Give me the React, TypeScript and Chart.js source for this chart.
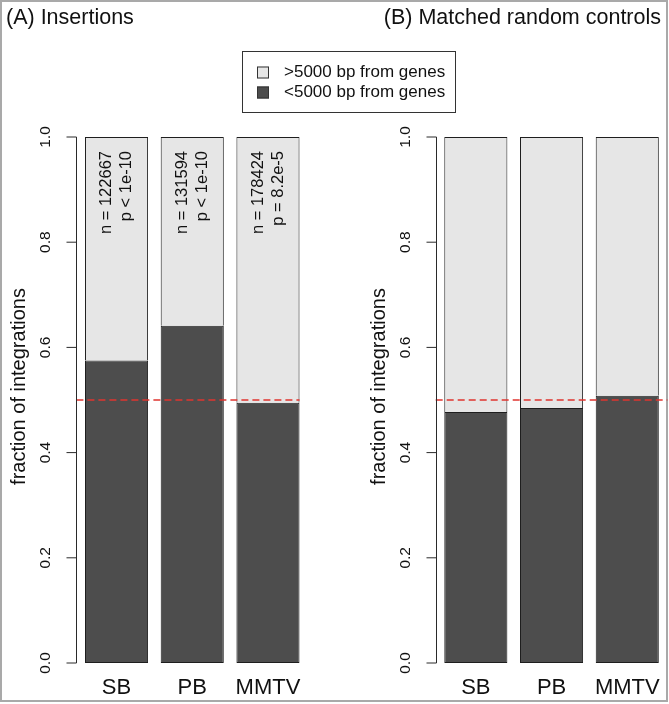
import React, { useEffect, useRef } from "react";
import { Chart, registerables } from "chart.js";

Chart.register(...registerables);

// ---- data ----
const categories = ["SB", "PB", "MMTV"];
const barPositions = [0.7, 1.9, 3.1];
const insertionsNear = [0.575, 0.641, 0.495];
const insertionsFar = [0.425, 0.359, 0.505];
const controlsNear = [0.477, 0.485, 0.508];
const controlsFar = [0.523, 0.515, 0.492];
const insertionCounts = ["n = 122667", "n = 131594", "n = 178424"];
const insertionPValues = ["p < 1e-10", "p < 1e-10", "p = 8.2e-5"];
const yTickValues = [0, 0.2, 0.4, 0.6, 0.8, 1.0];
const legendLabels = [">5000 bp from genes", "<5000 bp from genes"];
const panelTitles = ["(A) Insertions", "(B) Matched random controls"];
const yAxisTitle = "fraction of integrations";
const referenceLevel = 0.5;
const xRange = [0.064, 3.736];
const leftRefLineEnd = 3.6;

// ---- styles ----
const FONT = '"Liberation Sans", Arial, Helvetica, sans-serif';
const DARK = "#4d4d4d";
const LIGHT = "#e6e6e6";
const EDGE = "#1e1e1e";
const AXIS = "#2a2a2a";
const TEXT = "#111111";
const RED = "#e0342f";

type Panel = {
  near: number[];
  far: number[];
  notes: string[][] | null;
  title: string;
  titleAlign: CanvasTextAlign;
  titleX: number;
  padding: { left: number; right: number; top: number; bottom: number };
  refEnd: number | null;
  legend: boolean;
};

const panels: Panel[] = [
  {
    near: insertionsNear,
    far: insertionsFar,
    notes: [insertionCounts, insertionPValues],
    title: panelTitles[0],
    titleAlign: "left",
    titleX: 6,
    padding: { left: 76.4, right: 360.9, top: 137, bottom: 41 },
    refEnd: leftRefLineEnd,
    legend: true,
  },
  {
    near: controlsNear,
    far: controlsFar,
    notes: null,
    title: panelTitles[1],
    titleAlign: "right",
    titleX: 661,
    padding: { left: 435.7, right: 1.6, top: 137, bottom: 41 },
    refEnd: null,
    legend: false,
  },
];

function rotText(
  ctx: CanvasRenderingContext2D,
  text: string,
  x: number,
  y: number,
  align: CanvasTextAlign
) {
  ctx.save();
  ctx.translate(x, y);
  ctx.rotate(-Math.PI / 2);
  ctx.textAlign = align;
  ctx.textBaseline = "middle";
  ctx.fillText(text, 0, 0);
  ctx.restore();
}

function buildChart(canvas: HTMLCanvasElement, p: Panel) {
  const decor = {
    id: "decor",
    afterDatasetsDraw(chart: any) {
      const { ctx, chartArea: a, scales } = chart;
      const py = scales.y.getPixelForValue(referenceLevel);
      const xEnd = p.refEnd != null ? scales.x.getPixelForValue(p.refEnd) : a.right;
      ctx.save();
      ctx.strokeStyle = RED;
      ctx.lineWidth = 1.5;
      ctx.setLineDash([7, 4]);
      ctx.beginPath();
      ctx.moveTo(a.left, py);
      ctx.lineTo(xEnd, py);
      ctx.stroke();
      ctx.restore();
    },
    afterDraw(chart: any) {
      const { ctx, chartArea: a, scales } = chart;
      const xs = scales.x;
      const ys = scales.y;
      const ax = Math.round(a.left) + 0.5;
      const y0 = ys.getPixelForValue(0);
      const y1 = ys.getPixelForValue(1);
      ctx.save();
      // y axis
      ctx.strokeStyle = AXIS;
      ctx.lineWidth = 1;
      ctx.beginPath();
      ctx.moveTo(ax, y0);
      ctx.lineTo(ax, y1);
      ys.ticks.forEach((t: any) => {
        const py = ys.getPixelForValue(t.value);
        ctx.moveTo(ax - 10, py);
        ctx.lineTo(ax, py);
      });
      ctx.stroke();
      ctx.fillStyle = TEXT;
      ctx.font = `15.5px ${FONT}`;
      ys.ticks.forEach((t: any) =>
        rotText(ctx, Number(t.value).toFixed(1), ax - 30.5, ys.getPixelForValue(t.value), "center")
      );
      ctx.font = `20px ${FONT}`;
      rotText(ctx, yAxisTitle, ax - 57, (y0 + y1) / 2 - 13.5, "center");
      // category labels
      ctx.font = `22px ${FONT}`;
      ctx.textAlign = "center";
      ctx.textBaseline = "middle";
      xs.ticks.forEach((t: any, i: number) => {
        ctx.fillText(categories[i], xs.getPixelForValue(t.value), y0 + 25);
      });
      // annotations
      if (p.notes) {
        ctx.font = `16.5px ${FONT}`;
        const top = y1 + 14;
        barPositions.forEach((v, i) => {
          const cx = xs.getPixelForValue(v);
          rotText(ctx, p.notes![0][i], cx - 10, top, "right");
          rotText(ctx, p.notes![1][i], cx + 10, top, "right");
        });
      }
      // title
      ctx.font = `21.5px ${FONT}`;
      ctx.textAlign = p.titleAlign;
      ctx.textBaseline = "middle";
      ctx.fillText(p.title, p.titleX, 18);
      // legend
      if (p.legend) {
        const ds = chart.data.datasets;
        const order = [1, 0];
        ctx.strokeStyle = "#333333";
        ctx.lineWidth = 1;
        ctx.strokeRect(242.5, 51.5, 213, 61);
        ctx.font = `17px ${FONT}`;
        ctx.textAlign = "left";
        order.forEach((di, r) => {
          const cy = 72.5 + r * 20;
          ctx.fillStyle = ds[di].backgroundColor;
          ctx.fillRect(257, cy - 6, 12, 12);
          ctx.strokeStyle = "#333333";
          ctx.strokeRect(257.5, cy - 5.5, 11, 11);
          ctx.fillStyle = TEXT;
          ctx.fillText(ds[di].label, 284, cy);
        });
      }
      ctx.restore();
    },
  };

  return new Chart(canvas, {
    type: "bar",
    data: {
      datasets: [
        {
          label: legendLabels[1],
          data: barPositions.map((x, i) => ({ x, y: p.near[i] })),
          backgroundColor: DARK,
          borderColor: EDGE,
          borderWidth: 1,
          borderSkipped: false,
        },
        {
          label: legendLabels[0],
          data: barPositions.map((x, i) => ({ x, y: p.far[i] })),
          backgroundColor: LIGHT,
          borderColor: EDGE,
          borderWidth: 1,
          borderSkipped: "bottom",
        },
      ],
    } as any,
    options: {
      animation: false,
      responsive: false,
      events: [],
      layout: { padding: p.padding },
      datasets: { bar: { barPercentage: 1 / 1.2, categoryPercentage: 1 } },
      plugins: {
        legend: { display: false },
        tooltip: { enabled: false },
        title: { display: false },
      },
      scales: {
        x: {
          type: "linear",
          min: xRange[0],
          max: xRange[1],
          offset: false,
          grid: { offset: false },
          stacked: true,
          display: false,
          afterBuildTicks: (s: any) => {
            s.ticks = barPositions.map((v) => ({ value: v }));
          },
        },
        y: {
          type: "linear",
          min: 0,
          max: 1,
          stacked: true,
          display: false,
          afterBuildTicks: (s: any) => {
            s.ticks = yTickValues.map((v) => ({ value: v }));
          },
        },
      },
    } as any,
    plugins: [decor],
  });
}

export default function App() {
  const leftRef = useRef<HTMLCanvasElement>(null);
  const rightRef = useRef<HTMLCanvasElement>(null);
  useEffect(() => {
    const charts = [
      buildChart(leftRef.current!, panels[0]),
      buildChart(rightRef.current!, panels[1]),
    ];
    return () => charts.forEach((c) => c.destroy());
  }, []);
  return (
    <div style={{ position: "absolute", left: 0, top: 0, width: 669, height: 704, background: "#ffffff" }}>
      <div
        style={{
          position: "absolute",
          left: 0,
          top: 0,
          width: 668,
          height: 702,
          border: "2px solid #a9a9a9",
          boxSizing: "border-box",
        }}
      />
      <canvas ref={leftRef} width={669} height={704} style={{ position: "absolute", left: 0, top: 0 }} />
      <canvas ref={rightRef} width={669} height={704} style={{ position: "absolute", left: 0, top: 0 }} />
    </div>
  );
}
